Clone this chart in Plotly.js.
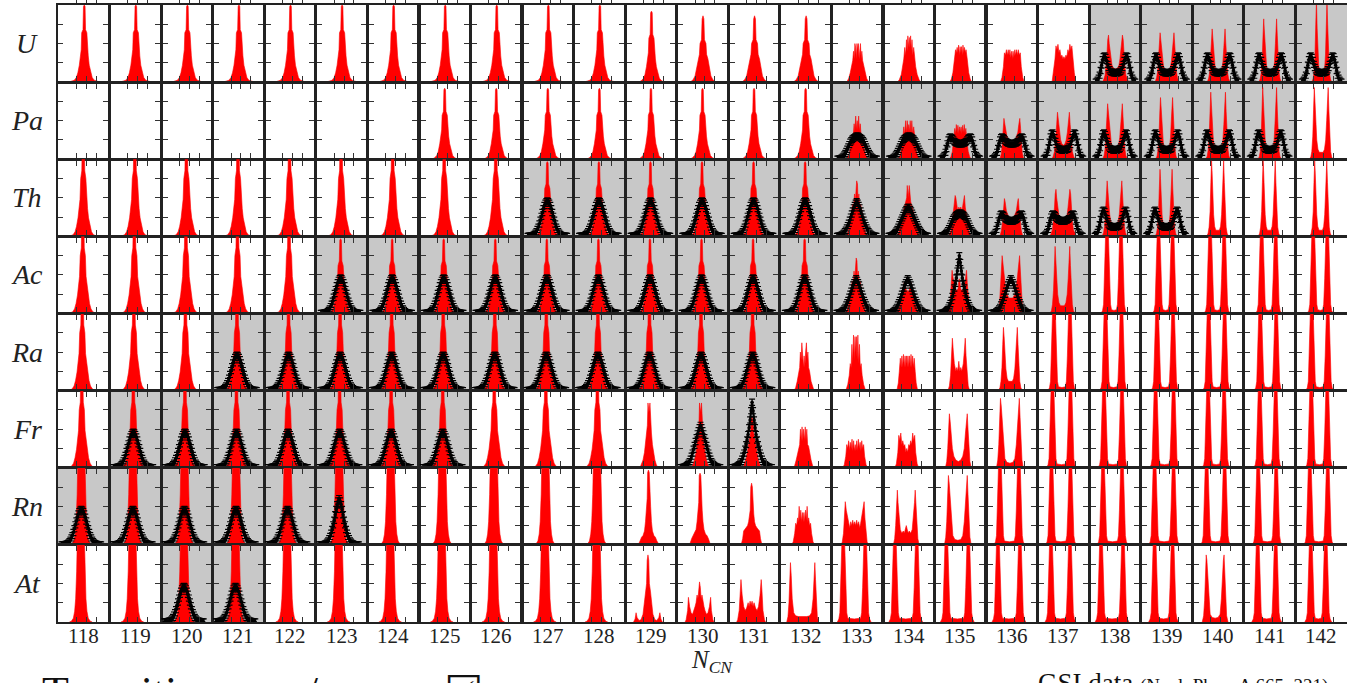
<!DOCTYPE html>
<html><head><meta charset="utf-8">
<script src="https://cdn.plot.ly/plotly-3.0.1.min.js"></script>
<style>html,body{margin:0;padding:0;background:#fff;overflow:hidden}</style>
</head><body><div id="chart" style="width:1347px;height:683px"></div>
<script>
// ---- categories ----
const columns = [118,119,120,121,122,123,124,125,126,127,128,129,130,131,132,133,134,135,136,137,138,139,140,141,142];
const elements = ['U','Pa','Th','Ac','Ra','Fr','Rn','At'];
const elementZ = [92,91,90,89,88,87,86,85];
const xTickVals = [38,48,58];
const yTickVals = [0.25,0.5,0.75];

// ---- calculated (red) half-profiles: [offset from symmetric split, relative yield] ----
const SU   = [[0,1.0],[0.8,0.98],[1.3,0.68],[2.6,0.64],[3.1,0.42],[4,0.34],[5,0.22],[6.5,0.12],[8,0.06],[10,0.025],[13,0.008],[16,0]];
const ST   = [[0,1.5],[0.9,1.35],[1.5,0.85],[2.6,0.75],[3.3,0.48],[4.3,0.36],[5.3,0.24],[6.8,0.13],[8.3,0.06],[10.3,0.02],[13,0.005],[15,0]];
const SC   = [[0,2.6],[2.2,2.3],[3.2,1.3],[4.2,0.65],[5.2,0.3],[6.2,0.14],[7.5,0.05],[9.5,0.01],[11.5,0]];
const SPA  = [[0,0.92],[0.8,0.9],[1.3,0.62],[2.6,0.57],[3.1,0.38],[4,0.3],[5,0.2],[6.5,0.1],[8,0.05],[10,0.02],[13,0]];
const SG   = [[0,0.97],[0.8,0.95],[1.3,0.68],[2.6,0.62],[3.1,0.42],[4,0.34],[5,0.22],[6.5,0.12],[8,0.06],[10,0.02],[13,0]];
const SW   = [[0,0.86],[0.9,0.82],[1.5,0.55],[3,0.5],[3.6,0.36],[5,0.3],[6.5,0.18],[8,0.08],[10,0.03],[13,0]];
const U133 = [[0,0.42],[0.7,0.5],[1.4,0.3],[2.1,0.45],[2.8,0.5],[3.5,0.3],[4.2,0.4],[5,0.28],[6,0.22],[7.5,0.12],[9,0.05],[11,0]];
const U134 = [[0,0.58],[0.7,0.45],[1.4,0.6],[2.1,0.4],[2.8,0.55],[3.5,0.35],[4.5,0.45],[5.5,0.3],[6.5,0.2],[8,0.1],[10,0.03],[12,0]];
const U135 = [[0,0.38],[0.7,0.46],[1.5,0.35],[2.2,0.48],[3,0.38],[3.7,0.45],[4.5,0.38],[5.3,0.42],[6.5,0.3],[8,0.12],[9.5,0.04],[11,0]];
const U136 = [[0,0.3],[0.7,0.4],[1.5,0.32],[2.5,0.42],[3.2,0.35],[4.2,0.42],[5,0.35],[6,0.42],[7,0.35],[8,0.38],[9,0.2],[10.5,0.06],[12,0]];
const U137 = [[0,0.33],[1,0.3],[2,0.35],[3,0.33],[4,0.42],[5,0.38],[6,0.49],[7,0.42],[8,0.47],[9,0.3],[10.5,0.12],[12,0]];
const D75_61 = [[0,0.17],[2,0.18],[3.5,0.22],[4.5,0.3],[5.5,0.42],[6.3,0.5],[7,0.61],[7.8,0.55],[8.5,0.38],[9.5,0.2],[10.5,0.09],[12,0.03],[13.5,0]];
const D7_64  = [[0,0.14],[2,0.15],[3.5,0.2],[4.5,0.28],[5.5,0.45],[6.3,0.55],[7,0.64],[7.7,0.5],[8.5,0.3],[9.5,0.14],[10.5,0.06],[12,0]];
const D65_69 = [[0,0.12],[2,0.12],[3.3,0.16],[4.3,0.26],[5.3,0.45],[6,0.6],[6.5,0.69],[7.2,0.52],[8,0.3],[9,0.13],[10,0.05],[11.5,0]];
const D65_82 = [[0,0.1],[2,0.1],[3.3,0.14],[4.3,0.25],[5.3,0.5],[6,0.7],[6.5,0.82],[7.2,0.6],[8,0.3],[9,0.12],[10,0.04],[11.5,0]];
const D55_100= [[0,0.08],[1.8,0.09],[2.8,0.15],[3.8,0.35],[4.6,0.7],[5.3,1.05],[6,0.75],[6.8,0.35],[7.8,0.12],[8.8,0.04],[10,0]];
const Pa133 = [[0,0.5],[0.7,0.38],[1.5,0.56],[2.3,0.36],[3.1,0.46],[4,0.3],[5,0.3],[6,0.2],[7.5,0.1],[9,0.04],[11,0]];
const Pa134 = [[0,0.45],[0.7,0.35],[1.5,0.5],[2.3,0.33],[3.1,0.5],[4,0.32],[5,0.42],[6,0.25],[7.5,0.12],[9,0.04],[11,0]];
const Pa135 = [[0,0.35],[0.8,0.42],[1.6,0.33],[2.4,0.44],[3.2,0.34],[4,0.45],[4.8,0.33],[5.6,0.4],[6.6,0.25],[8,0.1],[9.5,0.03],[11,0]];
const D8_53 = [[0,0.2],[2,0.2],[3.5,0.25],[5,0.3],[6,0.35],[7,0.45],[8,0.53],[8.8,0.4],[9.6,0.22],[10.5,0.08],[12,0]];
const D6_61 = [[0,0.18],[1.5,0.2],[2.8,0.25],[4,0.35],[5,0.5],[6,0.61],[6.8,0.45],[7.8,0.25],[9,0.1],[10.5,0.03],[12,0]];
const D75_72= [[0,0.13],[2,0.14],[3.5,0.18],[4.8,0.28],[5.8,0.45],[6.7,0.6],[7.4,0.72],[8.1,0.55],[9,0.3],[10,0.13],[11,0.05],[12.5,0]];
const D6_80 = [[0,0.12],[1.8,0.12],[3,0.16],[4,0.28],[5,0.55],[5.6,0.7],[6.1,0.8],[6.8,0.6],[7.6,0.3],[8.6,0.12],[9.6,0.04],[11,0]];
const D75_87= [[0,0.1],[2,0.1],[3.5,0.14],[4.8,0.25],[5.8,0.45],[6.7,0.7],[7.4,0.87],[8.1,0.62],[9,0.3],[10,0.12],[11,0.04],[12.5,0]];
const D7_93 = [[0,0.09],[2,0.09],[3.3,0.13],[4.5,0.25],[5.5,0.5],[6.3,0.75],[7,0.93],[7.7,0.65],[8.5,0.3],[9.5,0.1],[10.5,0.03],[12,0]];
const Th133 = [[0,0.72],[0.8,0.68],[1.4,0.45],[2.2,0.55],[3,0.38],[4,0.42],[5,0.3],[6,0.25],[7.5,0.12],[9,0.05],[11,0]];
const Th134 = [[0,0.5],[1,0.66],[1.6,0.5],[2.5,0.45],[3.5,0.4],[4.5,0.35],[5.5,0.28],[6.5,0.25],[8,0.12],[10,0.04],[12,0]];
const Th135 = [[0,0.35],[1,0.38],[2,0.32],[3,0.4],[4,0.5],[4.7,0.53],[5.5,0.38],[6.5,0.3],[7.5,0.2],[9,0.08],[11,0]];
const D7_49 = [[0,0.25],[2,0.22],[3.5,0.28],[5,0.33],[6.3,0.45],[7,0.49],[7.8,0.35],[8.8,0.2],[10,0.08],[11.5,0]];
const D6_87 = [[0,0.11],[1.8,0.11],[3,0.15],[4,0.28],[5,0.55],[5.6,0.75],[6.1,0.87],[6.8,0.62],[7.6,0.3],[8.6,0.12],[9.6,0.04],[11,0]];
const D6_98 = [[0,0.08],[1.8,0.08],[3,0.13],[4,0.28],[5,0.6],[5.6,0.85],[6.1,0.98],[6.8,0.7],[7.6,0.32],[8.6,0.12],[9.6,0.04],[11,0]];
const Ac134 = [[0,0.3],[1,0.28],[2,0.33],[3,0.38],[3.7,0.4],[4.5,0.3],[5.5,0.22],[6.5,0.18],[8,0.1],[9.5,0.04],[11,0]];
const Ac135 = [[0,0.45],[0.7,0.4],[1.3,0.32],[2.5,0.3],[4,0.3],[5.5,0.38],[6.5,0.48],[7.3,0.56],[8,0.4],[9,0.2],[10,0.08],[11.5,0]];
const D9_75 = [[0,0.2],[2,0.2],[4,0.25],[5.5,0.35],[6.8,0.5],[8,0.65],[8.8,0.75],[9.6,0.55],[10.5,0.3],[11.5,0.12],[12.5,0.04],[14,0]];
const Ra132 = [[0,0.45],[0.7,0.3],[1.5,0.5],[2.3,0.62],[3,0.4],[3.8,0.5],[4.5,0.3],[5.5,0.25],[7,0.12],[8.5,0.04],[10,0]];
const Ra133 = [[0,0.5],[0.7,0.7],[1.4,0.4],[2.2,0.72],[3,0.35],[3.8,0.6],[4.6,0.3],[5.5,0.35],[6.5,0.2],[8,0.08],[10,0]];
const Ra134 = [[0,0.3],[0.7,0.45],[1.5,0.3],[2.2,0.45],[3,0.3],[3.8,0.47],[4.6,0.3],[5.4,0.45],[6.2,0.3],[7,0.42],[8,0.25],[9,0.1],[10.5,0]];
const Ra135 = [[0,0.38],[1,0.25],[2,0.3],[3,0.25],[4.5,0.35],[5.5,0.5],[6.5,0.68],[7.3,0.45],[8.3,0.2],[9.5,0.06],[11,0]];
const D7_82 = [[0,0.12],[2,0.12],[3.3,0.16],[4.5,0.28],[5.5,0.5],[6.3,0.7],[7,0.82],[7.7,0.6],[8.5,0.3],[9.5,0.12],[10.5,0.04],[12,0]];
const Fr129 = [[0,0.72],[1,0.84],[1.6,0.55],[2.5,0.45],[3.5,0.3],[4.5,0.2],[6,0.1],[7.5,0.04],[9,0]];
const Fr131 = [[0,0.6],[1,0.66],[1.6,0.45],[2.5,0.4],[3.5,0.3],[4.5,0.22],[6,0.12],[7.5,0.05],[9,0]];
const Fr132 = [[0,0.5],[0.8,0.35],[1.6,0.53],[2.4,0.35],[3.2,0.5],[4,0.3],[5,0.28],[6,0.2],[7.5,0.1],[9,0.03],[10.5,0]];
const Fr133 = [[0,0.3],[0.8,0.22],[1.6,0.35],[2.4,0.22],[3.2,0.37],[4,0.25],[5,0.33],[5.8,0.22],[6.6,0.35],[7.5,0.25],[8.5,0.3],[9.5,0.15],[11,0.04],[12.5,0]];
const Fr134 = [[0,0.25],[1,0.2],[2,0.3],[3,0.28],[4,0.35],[5,0.3],[6,0.45],[7,0.35],[8,0.42],[9,0.2],[10.5,0.05],[12,0]];
const D9_70 = [[0,0.08],[2.5,0.1],[4.5,0.15],[6,0.25],[7.2,0.45],[8.2,0.6],[9,0.7],[9.8,0.5],[10.7,0.25],[11.7,0.08],[13,0]];
const D95_90= [[0,0.06],[3,0.07],[5,0.12],[6.5,0.3],[7.7,0.6],[8.7,0.8],[9.5,0.9],[10.3,0.65],[11.2,0.3],[12.2,0.1],[13.5,0]];
const Rn129 = [[0,0.97],[0.8,0.94],[1.3,0.6],[2.2,0.5],[3,0.3],[4,0.18],[5.5,0.12],[7,0.1],[8.5,0.05],[10,0.01],[11,0]];
const Rn130 = [[0,0.93],[0.8,0.9],[1.3,0.55],[2.2,0.45],[3,0.3],[4,0.2],[5.5,0.14],[7,0.12],[8.5,0.08],[10,0.02],[11.5,0]];
const Rn131 = [[0,0.8],[0.8,0.75],[1.4,0.45],[2.2,0.4],[3,0.3],[4,0.25],[5.5,0.22],[7,0.2],[8,0.18],[9,0.08],[10.5,0]];
const Rn132 = [[0,0.3],[0.8,0.42],[1.6,0.3],[2.4,0.45],[3.2,0.32],[4,0.5],[4.8,0.3],[5.6,0.35],[6.5,0.25],[7.5,0.28],[8.5,0.15],[10,0.04],[11.5,0]];
const Rn133 = [[0,0.3],[1,0.25],[2,0.32],[3,0.25],[4,0.3],[5,0.22],[6,0.28],[7,0.35],[8.5,0.45],[9.5,0.56],[10.3,0.35],[11.3,0.15],[12.5,0.04],[13.5,0]];
const Rn134 = [[0,0.25],[1,0.2],[2,0.15],[3,0.18],[4.5,0.15],[6,0.2],[7.2,0.35],[8.3,0.55],[9,0.71],[9.8,0.5],[10.7,0.25],[11.7,0.08],[13,0]];
const At129 = [[0,0.87],[0.8,0.8],[1.4,0.5],[2.5,0.4],[3.5,0.25],[5,0.1],[7,0.03],[9,0.02],[11,0.06],[12,0.12],[13,0.04],[14.5,0]];
const At130 = [[0,0.52],[0.8,0.45],[1.6,0.3],[2.5,0.35],[3.5,0.25],[4.5,0.2],[5.5,0.15],[7,0.1],[8.5,0.12],[10,0.2],[11.2,0.32],[12,0.15],[13.5,0.03],[14.5,0]];
const At131 = [[0,0.22],[1,0.27],[2,0.2],[3,0.25],[4.5,0.18],[6,0.15],[7.5,0.2],[9,0.35],[10.2,0.55],[11,0.4],[12,0.15],[13.5,0.03],[14.5,0]];
const At132 = [[0,0.07],[4,0.07],[7,0.08],[9,0.12],[10.5,0.3],[11.5,0.6],[12.3,0.77],[13,0.55],[13.8,0.25],[14.8,0.07],[16,0]];
const D9_87 = [[0,0.05],[3,0.06],[5,0.1],[6.3,0.3],[7.3,0.6],[8.3,0.8],[9,0.87],[9.7,0.6],[10.6,0.28],[11.6,0.08],[13,0]];
const D7_T  = [[0,0.04],[2.5,0.05],[3.5,0.12],[4.5,0.45],[5.5,1.0],[7,1.6],[8.5,1.0],[9.5,0.45],[10.5,0.12],[11.5,0.04],[13,0]];
const D75_T = [[0,0.04],[3,0.05],[4,0.12],[5,0.45],[6,1.0],[7.5,1.6],[9,1.0],[10,0.45],[11,0.12],[12,0.04],[13.5,0]];
const D8_T  = [[0,0.04],[3.5,0.05],[4.5,0.12],[5.5,0.45],[6.5,1.0],[8,1.6],[9.5,1.0],[10.5,0.45],[11.5,0.12],[12.5,0.04],[14,0]];
const D9_T  = [[0,0.04],[4.5,0.05],[5.5,0.12],[6.5,0.45],[7.5,1.0],[9,1.6],[10.5,1.0],[11.5,0.45],[12.5,0.12],[13.5,0.04],[15,0]];
const D95_T = [[0,0.04],[5,0.05],[6,0.12],[7,0.45],[8,1.0],[9.5,1.6],[11,1.0],[12,0.45],[13,0.12],[14,0.04],[15.5,0]];
const D11_T = [[0,0.04],[6.5,0.05],[7.5,0.12],[8.5,0.45],[9.5,1.0],[11,1.6],[12.5,1.0],[13.5,0.45],[14.5,0.12],[15.5,0.04],[17,0]];

const redProfiles = {SU,ST,SC,SPA,SG,SW,U133,U134,U135,U136,U137,D75_61,D7_64,D65_69,D65_82,D55_100,
  Pa133,Pa134,Pa135,D8_53,D6_61,D75_72,D6_80,D75_87,D7_93,Th133,Th134,Th135,D7_49,D6_87,D6_98,
  Ac134,Ac135,D9_75,Ra132,Ra133,Ra134,Ra135,D7_82,Fr129,Fr131,Fr132,Fr133,Fr134,D9_70,D95_90,
  Rn129,Rn130,Rn131,Rn132,Rn133,Rn134,At129,At130,At131,At132,D9_87,D7_T,D75_T,D8_T,D9_T,D95_T,D11_T};

// ---- experimental (GSI, black) half-profiles: yield at offsets 0,1,2,...,20 ----
const EG     = [0.46,0.45,0.43,0.40,0.36,0.31,0.26,0.21,0.16,0.12,0.09,0.06,0.04,0.025,0.015,0.01,0.006,0.004,0.002,0.001,0];
const EG60   = [0.6,0.57,0.52,0.46,0.39,0.32,0.26,0.2,0.15,0.11,0.08,0.05,0.035,0.02,0.012,0.007,0.004,0.002,0.001,0,0];
const ETri45 = [0.45,0.43,0.4,0.37,0.33,0.29,0.25,0.21,0.17,0.14,0.11,0.08,0.06,0.04,0.03,0.02,0.012,0.007,0.004,0.002,0];
const ETri38 = [0.38,0.37,0.35,0.33,0.3,0.27,0.24,0.21,0.18,0.15,0.12,0.09,0.07,0.05,0.035,0.023,0.014,0.008,0.004,0.002,0];
const ETri55 = [0.55,0.52,0.48,0.44,0.39,0.34,0.29,0.24,0.19,0.15,0.11,0.08,0.06,0.04,0.027,0.017,0.01,0.006,0.003,0.001,0];
const ETall78= [0.75,0.66,0.55,0.46,0.39,0.33,0.27,0.22,0.17,0.13,0.1,0.07,0.05,0.035,0.022,0.014,0.008,0.004,0.002,0.001,0];
const ETall85= [0.85,0.74,0.62,0.52,0.43,0.36,0.3,0.24,0.19,0.15,0.11,0.08,0.06,0.04,0.03,0.02,0.012,0.007,0.004,0.002,0];
const EBroad = [0.3,0.3,0.29,0.28,0.27,0.26,0.24,0.22,0.19,0.16,0.13,0.1,0.075,0.055,0.038,0.025,0.015,0.009,0.005,0.002,0];
const EPlat  = [0.2,0.2,0.2,0.21,0.21,0.22,0.23,0.25,0.27,0.28,0.29,0.28,0.25,0.2,0.14,0.09,0.05,0.03,0.015,0.007,0];
const EDbl   = [0.12,0.12,0.12,0.13,0.13,0.14,0.16,0.19,0.23,0.28,0.32,0.34,0.33,0.29,0.22,0.15,0.09,0.05,0.025,0.01,0];
const expProfiles = {EG,EG60,ETri45,ETri38,ETri55,ETall78,ETall85,EBroad,EPlat,EDbl};

// ---- which profile sits in which panel (rows U..At, columns 118..142) ----
const redU  = ['SU','SU','SU','SU','SU','SU','SU','SU','SU','SU','SU','SPA','SW','SW','SW','U133','U134','U135','U136','U137','D75_61','D7_64','D65_69','D65_82','D55_100'];
const redPa = ['','','','','','','','SPA','SPA','SPA','SPA','SPA','SPA','SPA','SPA','Pa133','Pa134','Pa135','D8_53','D6_61','D75_72','D6_80','D75_87','D7_93','D7_93'];
const redTh = ['ST','ST','ST','ST','ST','ST','ST','ST','ST','SG','SG','SG','SG','SG','SG','Th133','Th134','Th135','D7_49','D75_61','D75_72','D6_87','D6_98','D6_98','D6_98'];
const redAc = ['ST','ST','ST','ST','ST','SG','SG','SG','SG','SG','SG','SG','SG','SG','SG','Th133','Ac134','Ac135','D9_75','D75_87','D7_T','D7_T','D7_T','D7_T','D7_T'];
const redRa = ['ST','ST','ST','ST','ST','ST','ST','ST','ST','ST','ST','ST','ST','ST','Ra132','Ra133','Ra134','Ra135','D7_82','D8_T','D8_T','D8_T','D8_T','D8_T','D8_T'];
const redFr = ['ST','ST','ST','ST','ST','ST','ST','ST','ST','ST','ST','Fr129','Fr129','Fr131','Fr132','Fr133','Fr134','D9_70','D95_90','D9_T','D9_T','D9_T','D8_T','D8_T','D8_T'];
const redRn = ['SC','SC','SC','SC','SC','SC','SC','SC','SC','SC','SC','Rn129','Rn130','Rn131','Rn132','Rn133','Rn134','D95_90','D95_T','D95_T','D95_T','D95_T','D9_T','D9_T','D9_T'];
const redAt = ['SC','SC','SC','SC','SC','SC','SC','SC','SC','SC','SC','At129','At130','At131','At132','D11_T','D11_T','D11_T','D11_T','D95_T','D11_T','D9_T','D9_87','D9_T','D75_T'];
const redRows = [redU,redPa,redTh,redAc,redRa,redFr,redRn,redAt];

const expU  = ['','','','','','','','','','','','','','','','','','','','','EDbl','EDbl','EDbl','EDbl','EDbl'];
const expPa = ['','','','','','','','','','','','','','','','EBroad','EBroad','EPlat','EPlat','EDbl','EDbl','EDbl','EDbl','EDbl',''];
const expTh = ['','','','','','','','','','EG','EG','EG','EG','EG','EG','ETri45','ETri38','EBroad','EPlat','EPlat','EDbl','EDbl','','',''];
const expAc = ['','','','','','EG','EG','EG','EG','EG','EG','EG','EG','EG','EG','ETri45','ETri45','ETall78','ETri45','','','','','',''];
const expRa = ['','','','EG','EG','EG','EG','EG','EG','EG','EG','EG','EG','EG','','','','','','','','','','',''];
const expFr = ['','EG','EG','EG','EG','EG','EG','EG','','','','','ETri55','ETall85','','','','','','','','','','',''];
const expRn = ['EG','EG','EG','EG','EG','EG60','','','','','','','','','','','','','','','','','','',''];
const expAt = ['','','EG','EG','','','','','','','','','','','','','','','','','','','','',''];
const expRows = [expU,expPa,expTh,expAc,expRa,expFr,expRn,expAt];

// panels with measured data are shaded (Ac 137 shaded without points)
const grayExtra = [[3,137]];

// ---- build ----
const NC = columns.length, NR = elements.length;
const traces = [], shapes = [], annotations = [];
const layout = {
  width:1347, height:683, showlegend:false,
  margin:{l:58,r:0,t:5,b:61},
  paper_bgcolor:'#ffffff', plot_bgcolor:'#ffffff',
  font:{family:'Liberation Serif, DejaVu Serif, serif', color:'#222'}
};
const axName = (p,i)=> i===0 ? p : p+(i+1);

for (let c=0;c<NC;c++){
  layout['xaxis'+(c===0?'':c+1)] = {
    domain:[c/NC,(c+1)/NC], anchor:axName('y',NR-1), range:[19.5,71.5],
    showline:true, linecolor:'#222', linewidth:1.6, mirror:'allticks',
    ticks:'inside', ticklen:5, tickwidth:1, tickcolor:'#333', tickvals:xTickVals,
    showticklabels:false, showgrid:false, zeroline:false, fixedrange:true
  };
}
for (let r=0;r<NR;r++){
  layout['yaxis'+(r===0?'':r+1)] = {
    domain:[1-(r+1)/NR,1-r/NR], anchor:'x', range:[0,1],
    showline:true, linecolor:'#222', linewidth:1.6, mirror:'allticks',
    ticks:'inside', ticklen:5, tickwidth:1, tickcolor:'#333', tickvals:yTickVals,
    showticklabels:false, showgrid:false, zeroline:false, fixedrange:true
  };
}

function mirrorPairs(prof, center){
  const xs=[], ys=[];
  for (let i=prof.length-1;i>=1;i--){ xs.push(center-prof[i][0]); ys.push(prof[i][1]); }
  for (let i=0;i<prof.length;i++){ xs.push(center+prof[i][0]); ys.push(prof[i][1]); }
  return {xs,ys};
}
function mirrorSeries(vals, center){
  const xs=[], ys=[];
  for (let i=vals.length-1;i>=1;i--){ xs.push(center-i); ys.push(vals[i]); }
  for (let i=0;i<vals.length;i++){ xs.push(center+i); ys.push(vals[i]); }
  return {xs,ys};
}

const expTraces = [];
for (let r=0;r<NR;r++){
  const center = elementZ[r]/2;
  for (let c=0;c<NC;c++){
    const xa = axName('x',c), ya = axName('y',r);
    const name = redRows[r][c];
    if (name){
      const m = mirrorPairs(redProfiles[name], center);
      traces.push({type:'scatter', mode:'lines', x:m.xs, y:m.ys, xaxis:xa, yaxis:ya,
        fill:'tozeroy', fillcolor:'#ff0000', line:{color:'#ff0000', width:0.6}, hoverinfo:'skip'});
    } else {
      traces.push({type:'scatter', mode:'lines', x:[], y:[], xaxis:xa, yaxis:ya, hoverinfo:'skip'});
    }
    const en = expRows[r][c];
    const shaded = !!en || grayExtra.some(g=>g[0]===r && g[1]===columns[c]);
    if (shaded){
      shapes.push({type:'rect', layer:'below', xref:xa+' domain', yref:ya+' domain',
        x0:0, x1:1, y0:0, y1:1, fillcolor:'#c8c8c8', line:{width:0}});
    }
    if (en){
      const m = mirrorSeries(expProfiles[en], center);
      expTraces.push({type:'scatter', mode:'lines+markers', x:m.xs, y:m.ys, xaxis:xa, yaxis:ya,
        line:{color:'#000', width:2.2}, marker:{color:'#000', size:3.5},
        error_y:{type:'constant', value:0.04, color:'#000', thickness:1.2, width:3},
        hoverinfo:'skip'});
    }
  }
}
traces.push(...expTraces);

// column labels
for (let c=0;c<NC;c++){
  annotations.push({xref:'paper', yref:'paper', x:(c+0.5)/NC, y:-0.0235, xanchor:'center', yanchor:'middle',
    text:String(columns[c]), showarrow:false, font:{size:21, family:'Liberation Serif, serif', color:'#222'}});
}
// row labels
for (let r=0;r<NR;r++){
  annotations.push({xref:'paper', yref:'paper', x:-0.024, y:1-(r+0.5)/NR, xanchor:'center', yanchor:'middle',
    text:'<i>'+elements[r]+'</i>', showarrow:false, font:{size:28, family:'Liberation Serif, serif', color:'#222'}});
}
annotations.push({xref:'paper', yref:'paper', x:0.507, y:-0.064, xanchor:'center', yanchor:'middle',
  text:'<i>N</i><sub><i>CN</i></sub>', showarrow:false, font:{size:25, family:'Liberation Serif, serif', color:'#222'}});
annotations.push({xref:'paper', yref:'paper', x:-0.014, y:-0.072, xanchor:'left', yanchor:'top',
  text:'Transition sym/asym\u00a0\u00a0\u00a0\u2611', showarrow:false, font:{size:44, family:'Liberation Serif, serif', color:'#111'}});
annotations.push({xref:'paper', yref:'paper', x:0.759, y:-0.072, xanchor:'left', yanchor:'top',
  text:'GSI data <span style="font-size:19px">(Nucl. Phys. A 665, 221)</span>', showarrow:false,
  font:{size:27, family:'Liberation Serif, serif', color:'#111'}});

layout.shapes = shapes;
layout.annotations = annotations;
Plotly.newPlot('chart', traces, layout, {staticPlot:true, displayModeBar:false});
</script></body></html>
